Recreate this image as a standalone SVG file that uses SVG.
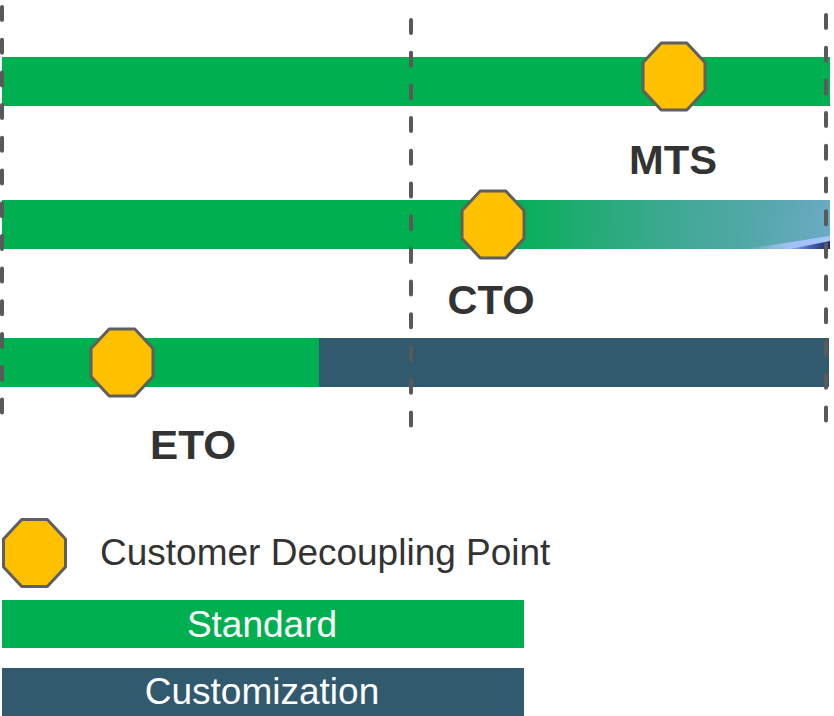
<svg xmlns="http://www.w3.org/2000/svg" width="834" height="716" viewBox="0 0 834 716">
  <style>
    .std { fill: #00b050; }
    .cus { fill: #325a6e; }
    .guide { stroke: #595959; stroke-width: 4; stroke-linecap: round; stroke-dasharray: 13 19.7; fill: none; }
    .cdp { fill: #ffc000; stroke: #5f5f5f; stroke-width: 3; stroke-linejoin: round; }
    .lbl { font-family: "Liberation Sans", Arial, sans-serif; font-weight: bold; font-size: 40px; fill: #333333; text-anchor: middle; }
    .leg { font-family: "Liberation Sans", Arial, sans-serif; font-size: 37px; }
  </style>
  <defs>
    <polygon id="octagon" points="-12.8,-33.5 12.8,-33.5 31,-13.9 31,13.9 12.8,33.5 -12.8,33.5 -31,13.9 -31,-13.9"/>
    <linearGradient id="fade" x1="0" y1="0" x2="1" y2="0">
      <stop offset="0" stop-color="#00b050"/>
      <stop offset="0.25" stop-color="#22ab74"/>
      <stop offset="0.65" stop-color="#45a79a"/>
      <stop offset="1" stop-color="#55a3ac"/>
    </linearGradient>
    <linearGradient id="sheen" gradientUnits="userSpaceOnUse" x1="600" y1="200" x2="830" y2="249">
      <stop offset="0" stop-color="#7fb0d8" stop-opacity="0"/>
      <stop offset="0.6" stop-color="#7fb0d8" stop-opacity="0.12"/>
      <stop offset="1" stop-color="#8fb8e8" stop-opacity="0.4"/>
    </linearGradient>
    <linearGradient id="streak" gradientUnits="userSpaceOnUse" x1="745" y1="0" x2="830" y2="0">
      <stop offset="0" stop-color="#a9c6ff" stop-opacity="0"/>
      <stop offset="0.5" stop-color="#a9c6ff" stop-opacity="0.85"/>
      <stop offset="1" stop-color="#a9c6ff"/>
    </linearGradient>
    <linearGradient id="edge" gradientUnits="userSpaceOnUse" x1="790" y1="243" x2="830" y2="249">
      <stop offset="0" stop-color="#7f96d8" stop-opacity="0.6"/>
      <stop offset="0.5" stop-color="#4a62b0"/>
      <stop offset="1" stop-color="#1a2a70"/>
    </linearGradient>
  </defs>

  <!-- process bars -->
  <g id="bar-mts">
    <rect class="std" x="2" y="57" width="828" height="49"/>
  </g>
  <g id="bar-cto">
    <rect class="std" x="2" y="200" width="828" height="49"/>
    <rect x="505" y="200" width="325" height="49" fill="url(#fade)"/>
    <rect x="505" y="200" width="325" height="49" fill="url(#sheen)"/>
    <polygon points="745,249 830,236 830,249" fill="url(#streak)"/>
    <polygon points="790,249 830,241 830,249" fill="url(#edge)"/>
  </g>
  <g id="bar-eto">
    <rect class="std" x="0" y="338" width="320" height="49"/>
    <rect class="cus" x="319" y="338" width="510" height="49"/>
  </g>

  <!-- dashed phase boundaries -->
  <g id="connectors">
    <line class="guide" x1="2" y1="7" x2="2" y2="415"/>
    <line class="guide" x1="411" y1="20" x2="411" y2="426"/>
    <line class="guide" x1="826" y1="15" x2="826" y2="422"/>
  </g>

  <!-- decoupling points -->
  <g id="cdp-mts">
    <use href="#octagon" class="cdp" transform="translate(674 76.5)"/>
    <text class="lbl" x="673" y="174" textLength="88" lengthAdjust="spacingAndGlyphs">MTS</text>
  </g>
  <g id="cdp-cto">
    <use href="#octagon" class="cdp" transform="translate(493 224.5)"/>
    <text class="lbl" x="491" y="314" textLength="87" lengthAdjust="spacingAndGlyphs">CTO</text>
  </g>
  <g id="cdp-eto">
    <use href="#octagon" class="cdp" transform="translate(122 362.5)"/>
    <text class="lbl" x="193" y="459" textLength="86" lengthAdjust="spacingAndGlyphs">ETO</text>
  </g>

  <!-- legend -->
  <g id="legend-cdp">
    <use href="#octagon" class="cdp" transform="translate(34.5 553)"/>
    <text class="leg" x="100" y="565" fill="#333333">Customer Decoupling Point</text>
  </g>
  <g id="legend-standard">
    <rect class="std" x="2" y="600" width="522" height="48"/>
    <text class="leg" x="262" y="637" fill="#ffffff" text-anchor="middle">Standard</text>
  </g>
  <g id="legend-customization">
    <rect class="cus" x="2" y="668" width="522" height="48"/>
    <text class="leg" x="262" y="704" fill="#ffffff" text-anchor="middle">Customization</text>
  </g>
</svg>
